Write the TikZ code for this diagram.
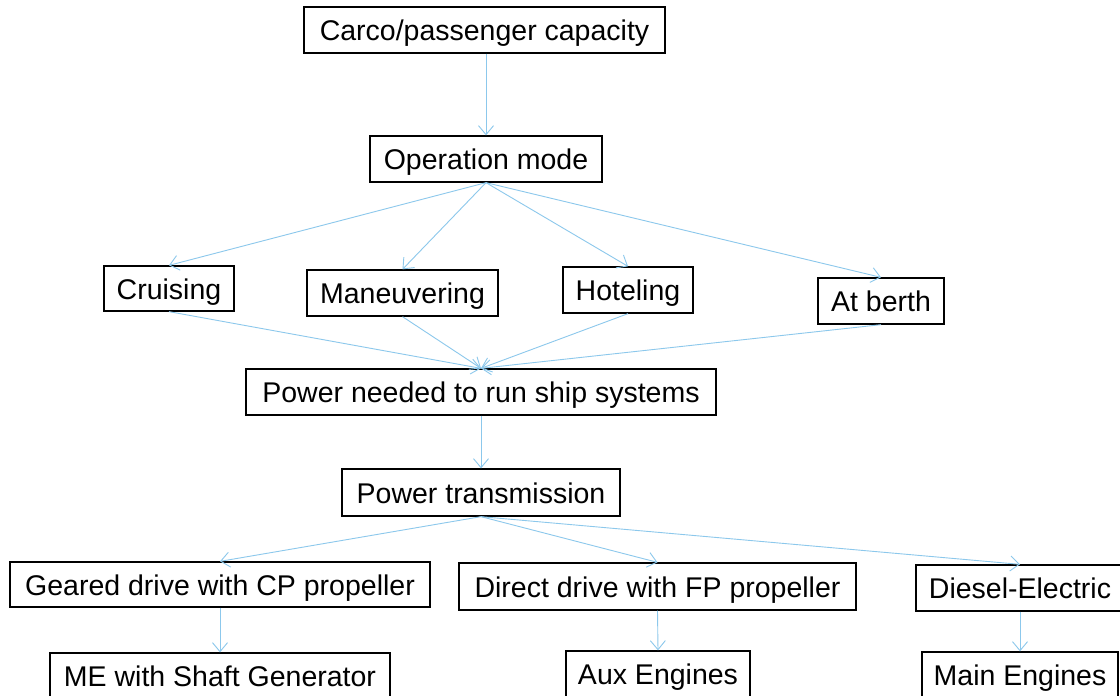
\documentclass[tikz,border=0pt]{standalone}
\usepackage{fontspec}
\setmainfont{Liberation Sans}
\usetikzlibrary{arrows.meta}
\definecolor{arrblue}{RGB}{140,200,236}
\tikzset{
  box/.style={draw=black, line width=1.3pt, rectangle, inner sep=0pt, align=center,
    text height=24pt, text depth=3pt,
    font=\fontsize{28.5}{34}\selectfont},
  conn/.style={draw=arrblue, line width=0.9pt, -{Straight Barb[length=9pt,width=15pt,line width=0.9pt]}}
}
\begin{document}
\begin{tikzpicture}[x=1pt,y=-1pt]
\useasboundingbox (0,0) rectangle (1120,696);
\clip (0,0) rectangle (1120,696);
\fill[white] (0,0) rectangle (1120,696);
\node[box, minimum width=361pt, minimum height=46pt] (carco) at (484.5,30) {Carco/passenger capacity};
\node[box, minimum width=232pt, minimum height=46pt] (op) at (486,159) {Operation mode};
\node[box, minimum width=130pt, minimum height=45pt] (cru) at (169,288.5) {Cruising};
\node[box, minimum width=191pt, minimum height=46pt] (man) at (402.5,293) {Maneuvering};
\node[box, minimum width=130pt, minimum height=46pt] (hot) at (628,290) {Hoteling};
\node[box, minimum width=126pt, minimum height=46pt] (ber) at (881,301) {At berth};
\node[box, minimum width=470pt, minimum height=46pt] (pow) at (481,392) {Power needed to run ship systems};
\node[box, minimum width=278pt, minimum height=47pt] (tra) at (481,492.5) {Power transmission};
\node[box, minimum width=420pt, minimum height=45pt] (ger) at (220,584.5) {Geared drive with CP propeller};
\node[box, minimum width=397pt, minimum height=47pt] (dir) at (657.5,586.5) {Direct drive with FP propeller};
\node[box, minimum width=208pt, minimum height=46pt] (die) at (1020,588) {Diesel-Electric};
\node[box, minimum width=340pt, minimum height=46pt] (me) at (220,676) {ME with Shaft Generator};
\node[box, minimum width=184pt, minimum height=46pt] (aux) at (658,674) {Aux Engines};
\node[box, minimum width=196pt, minimum height=46pt] (mai) at (1020,675) {Main Engines};

\draw[conn] ([xshift=1.5pt]carco.south) -- (op.north);
\draw[conn] (op.south) -- (cru.north);
\draw[conn] (op.south) -- (man.north);
\draw[conn] (op.south) -- (hot.north);
\draw[conn] (op.south) -- (ber.north);
\draw[conn] (cru.south) -- (pow.north);
\draw[conn] (man.south) -- (pow.north);
\draw[conn] (hot.south) -- (pow.north);
\draw[conn] (ber.south) -- (pow.north);
\draw[conn] (pow.south) -- (tra.north);
\draw[conn] (tra.south) -- (ger.north);
\draw[conn] (tra.south) -- (dir.north);
\draw[conn] (tra.south) -- (die.north);
\draw[conn] (ger.south) -- (me.north);
\draw[conn] (dir.south) -- (aux.north);
\draw[conn] (die.south) -- (mai.north);
\end{tikzpicture}
\end{document}
